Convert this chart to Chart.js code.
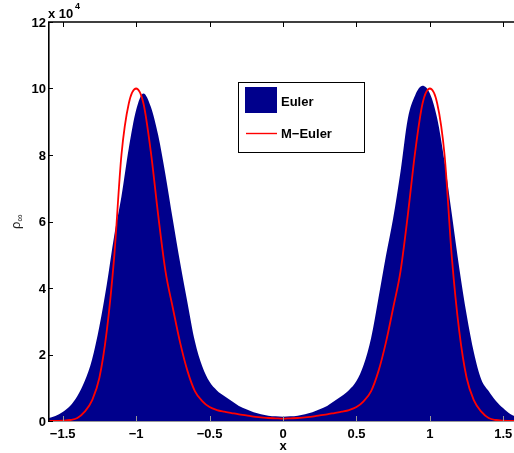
<!DOCTYPE html>
<html>
<head>
<meta charset="utf-8">
<script src="https://cdn.jsdelivr.net/npm/chart.js@4/dist/chart.umd.min.js"></script>
<style>
  html, body { margin: 0; padding: 0; background: #fff; overflow: hidden; }
  canvas { display: block; }
</style>
</head>
<body>
<canvas id="c" width="524" height="453"></canvas>
<script>
// Sample positions along x
const xs = [
  -1.60, -1.55, -1.50, -1.45, -1.40, -1.35, -1.30, -1.25, -1.20, -1.15, -1.10, -1.05, -1.00,
  -0.95, -0.90, -0.85, -0.80, -0.75, -0.70, -0.65, -0.60, -0.55, -0.50, -0.45, -0.40, -0.35,
  -0.30, -0.25, -0.20, -0.15, -0.10, -0.05, 0.00, 0.05, 0.10, 0.15, 0.20, 0.25, 0.30, 0.35,
  0.40, 0.45, 0.50, 0.55, 0.60, 0.65, 0.70, 0.75, 0.80, 0.85, 0.90, 0.95, 1.00, 1.05, 1.10,
  1.15, 1.20, 1.25, 1.30, 1.35, 1.40, 1.45, 1.50, 1.55, 1.60
];

// Density rho_inf, in units of 10^4
const euler = [
  0.08, 0.15, 0.27, 0.45, 0.75, 1.20, 1.85, 2.85, 4.10, 5.55, 6.75, 8.20, 9.35,
  9.85, 9.45, 8.60, 7.40, 6.05, 4.75, 3.55, 2.40, 1.65, 1.18, 0.92, 0.75, 0.60,
  0.45, 0.35, 0.26, 0.20, 0.16, 0.14, 0.13, 0.14, 0.16, 0.20, 0.26, 0.35, 0.45, 0.60,
  0.75, 0.93, 1.20, 1.70, 2.50, 3.70, 4.95, 6.10, 7.50, 9.10, 9.80, 10.08, 9.85, 9.10, 7.80,
  6.20, 4.60, 3.20, 2.05, 1.25, 0.90, 0.60, 0.38, 0.20, 0.10
];

const mEuler = [
  0.00, 0.00, 0.01, 0.03, 0.09, 0.28, 0.62, 1.30, 2.70, 4.90, 8.00, 9.55, 10.00,
  9.55, 8.10, 6.20, 4.50, 3.40, 2.35, 1.50, 0.90, 0.60, 0.42, 0.33, 0.28, 0.24,
  0.20, 0.17, 0.13, 0.11, 0.09, 0.08, 0.07, 0.08, 0.09, 0.11, 0.13, 0.17, 0.20, 0.24,
  0.28, 0.33, 0.42, 0.60, 0.90, 1.50, 2.35, 3.40, 4.50, 6.20, 8.10, 9.55, 10.00, 9.55, 8.00,
  4.90, 2.70, 1.30, 0.62, 0.28, 0.09, 0.03, 0.01, 0.00, 0.00
];

const seriesNames = ['Euler', 'M\u2212Euler'];
const xTicks = [-1.5, -1, -0.5, 0, 0.5, 1, 1.5];
const xTickLabels = ['\u22121.5', '\u22121', '\u22120.5', '0', '0.5', '1', '1.5'];
const yTicks = [0, 2, 4, 6, 8, 10, 12];
const yTickLabels = ['0', '2', '4', '6', '8', '10', '12'];

const EULER_COLOR = 'rgb(0,0,140)';
const MEULER_COLOR = 'rgb(255,0,0)';
const FONT = '"Liberation Sans", Arial, Helvetica, sans-serif';

const toPoints = (vals) => xs.map((x, i) => ({ x: x, y: vals[i] }));

// Axes, ticks, labels and legend in a MATLAB-like style
const decorations = {
  id: 'decorations',
  afterDatasetsDraw(chart) {
    const ctx = chart.ctx;
    const a = chart.chartArea;
    const sx = chart.scales.x, sy = chart.scales.y;
    ctx.save();

    // bottom axis line
    ctx.strokeStyle = 'rgb(150,150,150)';
    ctx.lineWidth = 1;
    ctx.beginPath();
    ctx.moveTo(a.left, a.bottom + 0.5);
    ctx.lineTo(a.right, a.bottom + 0.5);
    ctx.stroke();

    // left and top axis lines
    ctx.strokeStyle = '#000';
    ctx.lineWidth = 1.6;
    ctx.beginPath();
    ctx.moveTo(a.left + 0.8, a.bottom + 1);
    ctx.lineTo(a.left + 0.8, a.top);
    ctx.lineTo(a.right, a.top);
    ctx.stroke();

    // inward ticks
    ctx.lineWidth = 1;
    ctx.strokeStyle = '#000';
    ctx.beginPath();
    yTicks.forEach(v => {
      const y = Math.round(sy.getPixelForValue(v)) + 0.5;
      ctx.moveTo(a.left, y);
      ctx.lineTo(a.left + 5, y);
    });
    xTicks.forEach(v => {
      const x = Math.round(sx.getPixelForValue(v)) + 0.5;
      ctx.moveTo(x, a.top);
      ctx.lineTo(x, a.top + 5);
    });
    ctx.stroke();
    ctx.strokeStyle = 'rgb(150,150,150)';
    ctx.beginPath();
    xTicks.forEach(v => {
      const x = Math.round(sx.getPixelForValue(v)) + 0.5;
      ctx.moveTo(x, a.bottom);
      ctx.lineTo(x, a.bottom - 5);
    });
    ctx.stroke();

    // tick labels
    ctx.fillStyle = '#000';
    ctx.font = 'bold 13px ' + FONT;
    ctx.textAlign = 'right';
    ctx.textBaseline = 'middle';
    yTicks.forEach((v, i) => {
      ctx.fillText(yTickLabels[i], a.left - 2, sy.getPixelForValue(v) + 1);
    });
    ctx.textAlign = 'center';
    xTicks.forEach((v, i) => {
      ctx.fillText(xTickLabels[i], sx.getPixelForValue(v), a.bottom + 13);
    });

    // axis titles
    ctx.fillText('x', sx.getPixelForValue(0), a.bottom + 25);
    ctx.textAlign = 'left';
    ctx.textBaseline = 'alphabetic';
    ctx.fillText('x 10', a.left, a.top - 4);
    ctx.font = 'bold 9px ' + FONT;
    ctx.fillText('4', a.left + 27, a.top - 13);

    ctx.save();
    ctx.translate(20, 229);
    ctx.rotate(-Math.PI / 2);
    ctx.fillStyle = '#222';
    ctx.font = '13px ' + FONT;
    ctx.fillText('\u03C1', 0, 0);
    ctx.font = '10px ' + FONT;
    ctx.fillText('\u221E', 7.5, 3);
    ctx.restore();

    // legend
    const lx = 238, ly = 82, lw = 126, lh = 70;
    ctx.fillStyle = '#fff';
    ctx.fillRect(lx, ly, lw, lh);
    ctx.strokeStyle = '#000';
    ctx.lineWidth = 1;
    ctx.strokeRect(lx + 0.5, ly + 0.5, lw, lh);
    ctx.fillStyle = EULER_COLOR;
    ctx.fillRect(lx + 7, ly + 5, 32, 26);

    ctx.beginPath();
    ctx.strokeStyle = MEULER_COLOR;
    ctx.lineWidth = 1.4;
    ctx.moveTo(lx + 8, ly + 51.5);
    ctx.lineTo(lx + 39, ly + 51.5);
    ctx.stroke();

    ctx.fillStyle = '#000';
    ctx.font = 'bold 13px ' + FONT;
    ctx.textBaseline = 'middle';
    ctx.fillText(seriesNames[0], lx + 43, ly + 20);
    ctx.fillText(seriesNames[1], lx + 43, ly + 52);

    ctx.restore();
  }
};

new Chart(document.getElementById('c'), {
  type: 'line',
  data: {
    datasets: [
      {
        label: seriesNames[0],
        data: toPoints(euler),
        fill: 'origin',
        backgroundColor: EULER_COLOR,
        borderColor: EULER_COLOR,
        borderWidth: 0,
        pointRadius: 0,
        cubicInterpolationMode: 'monotone',
        order: 2
      },
      {
        label: seriesNames[1],
        data: toPoints(mEuler),
        fill: false,
        borderColor: MEULER_COLOR,
        borderWidth: 1.8,
        pointRadius: 0,
        cubicInterpolationMode: 'monotone',
        clip: { left: 0, top: 0, right: 0, bottom: 2 },
        order: 1
      }
    ]
  },
  options: {
    responsive: false,
    animation: false,
    events: [],
    layout: { padding: { left: 48, right: 6, top: 22, bottom: 32 } },
    scales: {
      x: { type: 'linear', min: -1.6, max: 1.6, display: false },
      y: { type: 'linear', min: 0, max: 12, display: false }
    },
    plugins: {
      legend: { display: false },
      tooltip: { enabled: false }
    }
  },
  plugins: [decorations]
});
</script>
</body>
</html>
